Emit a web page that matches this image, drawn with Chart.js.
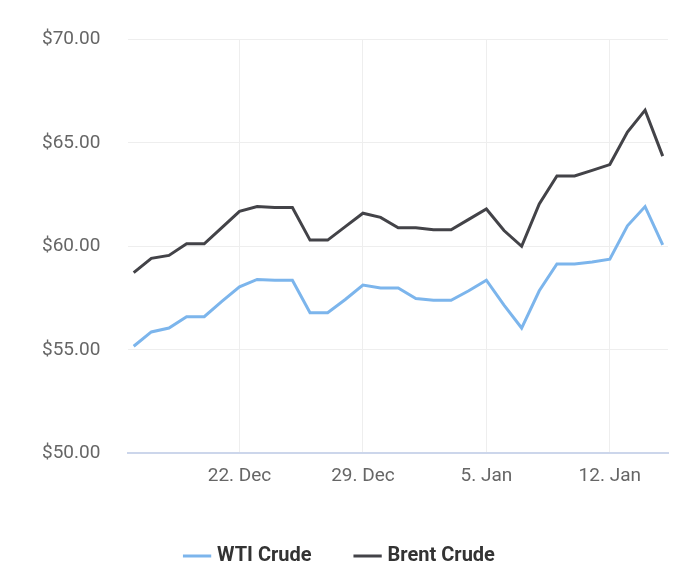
<!DOCTYPE html>
<html>
<head>
<meta charset="utf-8">
<script src="https://cdn.jsdelivr.net/npm/chart.js@4"></script>
<style>
  html, body { margin: 0; padding: 0; background: #fff; }
  #wrap { width: 700px; height: 586px; }
</style>
</head>
<body>
<div id="wrap"><canvas id="oilChart" width="700" height="586"></canvas></div>
<script>
// daily, 16 Dec .. 15 Jan
const dayLabels = ['16. Dec','17. Dec','18. Dec','19. Dec','20. Dec','21. Dec','22. Dec','23. Dec','24. Dec','25. Dec','26. Dec','27. Dec','28. Dec','29. Dec','30. Dec','31. Dec','1. Jan','2. Jan','3. Jan','4. Jan','5. Jan','6. Jan','7. Jan','8. Jan','9. Jan','10. Jan','11. Jan','12. Jan','13. Jan','14. Jan','15. Jan'];
const wti = [55.17,55.86,56.05,56.6,56.6,57.34,58.04,58.4,58.36,58.36,56.79,56.79,57.43,58.13,57.99,57.99,57.48,57.39,57.39,57.85,58.36,57.16,56.05,57.85,59.15,59.15,59.24,59.38,60.99,61.92,60.07];
const brent = [58.73,59.42,59.56,60.12,60.12,60.9,61.69,61.92,61.87,61.87,60.3,60.3,60.95,61.6,61.4,60.9,60.9,60.8,60.8,61.3,61.8,60.76,60.0,62.05,63.4,63.4,63.67,63.95,65.52,66.58,64.36];
const tickDays = [6, 13, 20, 27];
const yTicks = [50, 55, 60, 65, 70];

const toPts = arr => arr.map((v, i) => ({ x: i, y: v }));

const ctx = document.getElementById('oilChart').getContext('2d');
new Chart(ctx, {
    type: 'line',
    data: {
        datasets: [{
            label: 'WTI Crude',
            data: toPts(wti),
            borderColor: '#7cb5ec',
            backgroundColor: '#7cb5ec',
            borderWidth: 3,
            pointRadius: 0
        },
        {
            label: 'Brent Crude',
            data: toPts(brent),
            borderColor: '#434348',
            backgroundColor: '#434348',
            borderWidth: 3,
            pointRadius: 0
        }]
    },
    options: {
        responsive: false,
        animation: false,
        layout: { padding: { left: 14, right: 32, top: 22, bottom: 10 } },
        plugins: {
            legend: {
                position: 'bottom',
                labels: {
                    usePointStyle: true,
                    pointStyle: 'line',
                    boxWidth: 30,
                    padding: 46,
                    color: '#333',
                    font: { family: 'Roboto', size: 20, weight: 'bold' }
                }
            },
            tooltip: { enabled: false }
        },
        scales: {
            x: {
                type: 'linear',
                min: -0.3,
                max: 30.3,
                afterBuildTicks: axis => { axis.ticks = tickDays.map(v => ({ value: v })); },
                ticks: {
                    callback: v => dayLabels[v],
                    color: '#666',
                    font: { family: 'Roboto', size: 19 },
                    padding: 12
                },
                grid: { color: '#eeeeee', drawTicks: false },
                border: { color: '#ccd6eb', width: 2 }
            },
            y: {
                min: 50,
                max: 70,
                afterBuildTicks: axis => { axis.ticks = yTicks.map(v => ({ value: v })); },
                ticks: {
                    callback: v => '$' + v.toFixed(2),
                    color: '#666',
                    font: { family: 'Roboto', size: 19 },
                    padding: 28
                },
                grid: { color: '#eeeeee', drawTicks: false },
                border: { display: false }
            }
        }
    }
});
</script>
</body>
</html>
